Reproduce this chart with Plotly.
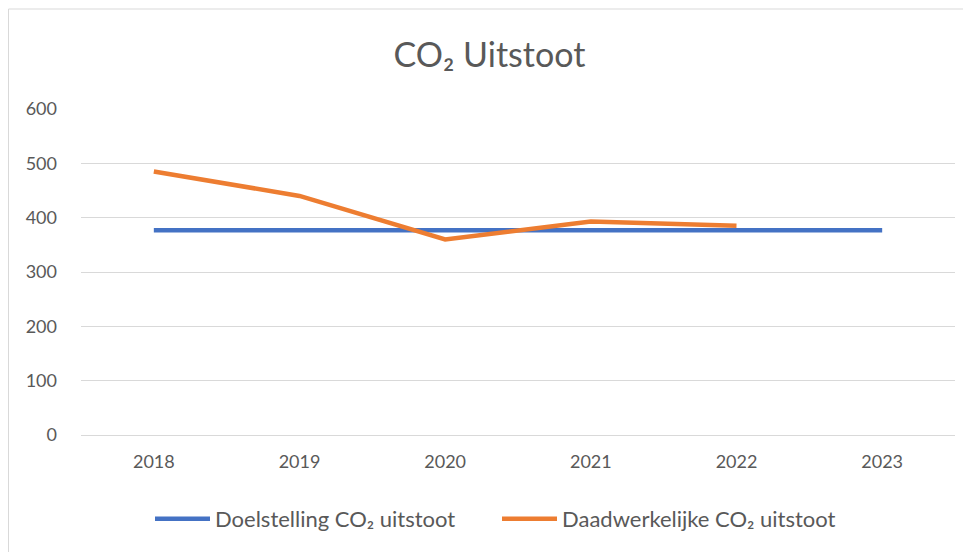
import plotly.graph_objects as go

# data
years = ['2018', '2019', '2020', '2021', '2022', '2023']
doelstelling = [377, 377, 377, 377, 377, 377]
daadwerkelijk = [485, 440, 360, 393, 385, None]

# the page body adds an 8px margin, so the figure is 8px smaller than the window
W, H = 963, 544
ml, mr, mt, mb = 73, 16, 101, 117
pw, ph = W - ml - mr, H - mt - mb

font = "Lato, 'Open Sans', sans-serif"
grey = '#595959'

fig = go.Figure()
fig.add_trace(go.Scatter(
    x=years, y=doelstelling, mode='lines',
    name='Doelstelling CO₂ uitstoot',
    line=dict(color='#4472c4', width=4.5)
))
fig.add_trace(go.Scatter(
    x=years, y=daadwerkelijk, mode='lines',
    name='Daadwerkelijke CO₂ uitstoot',
    line=dict(color='#ed7d31', width=4.5)
))

# thin frame around the chart box
fig.add_shape(
    type='rect', xref='paper', yref='paper',
    x0=(0.5 - ml) / pw, x1=(W + 5 - ml) / pw,
    y0=(-mb - 5) / ph, y1=(H - mb - 1) / ph,
    line=dict(color='#d9d9d9', width=1), layer='below'
)

fig.update_layout(
    width=W, height=H,
    margin=dict(l=ml, r=mr, t=mt, b=mb),
    paper_bgcolor='white', plot_bgcolor='white',
    font=dict(family=font, color=grey, size=18),
    title=dict(text='CO₂ Uitstoot', x=0.5, xanchor='center',
               y=1 - 47 / H, yanchor='middle',
               font=dict(size=34, color=grey, family=font)),
    xaxis=dict(type='category', range=[-0.5, 5.5], showgrid=False,
               showline=False, ticks='', ticklabelstandoff=14,
               tickfont=dict(size=18, color=grey)),
    yaxis=dict(range=[0, 600], dtick=100, showgrid=True, gridcolor='#d9d9d9',
               gridwidth=1, zeroline=True, zerolinecolor='#d9d9d9',
               zerolinewidth=1, ticks='', ticklabelstandoff=23,
               tickfont=dict(size=18, color=grey)),
    legend=dict(orientation='h', x=(150 - 8 - ml) / pw, xanchor='left',
                y=-(511 - (H - mb)) / ph, yanchor='middle',
                font=dict(size=22, color=grey), itemwidth=55,
                entrywidth=277, entrywidthmode='pixels'),
    showlegend=True
)

fig.write_html("out.html")
